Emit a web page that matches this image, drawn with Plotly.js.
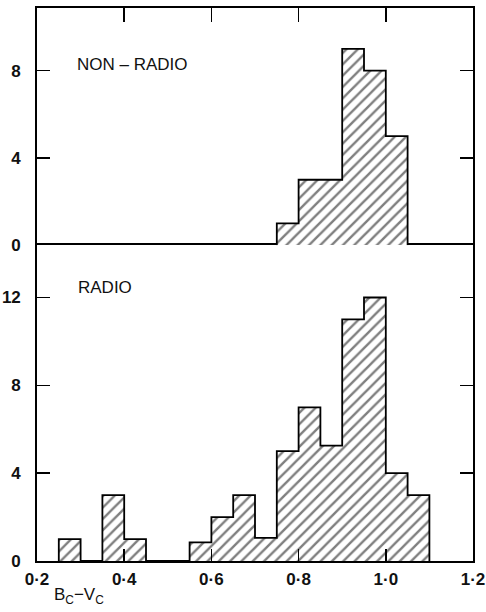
<!DOCTYPE html>
<html>
<head>
<meta charset="utf-8">
<script src="https://cdn.plot.ly/plotly-3.0.1.min.js"></script>
<style>html,body{margin:0;padding:0;background:#fff}#chart{width:486px;height:612px}</style>
</head>
<body>
<div id="chart"></div>
<script>
// Bin centres (B_C - V_C), bin width 0.05
const binWidth = 0.05;
const nonRadioBins = [0.775, 0.825, 0.875, 0.925, 0.975, 1.025];
const nonRadioCounts = [1, 3, 3, 9, 8, 5];
const radioBins = [0.275, 0.325, 0.375, 0.425, 0.475, 0.525, 0.575, 0.625, 0.675, 0.725, 0.775, 0.825, 0.875, 0.925, 0.975, 1.025, 1.075];
const radioCounts = [1, 0, 3, 1, 0, 0, 0.85, 2, 3, 1.05, 5, 7, 5.25, 11, 12, 4, 3];
const xTickVals = [0.2, 0.4, 0.6, 0.8, 1.0, 1.2];
const xTickText = ['0·2', '0·4', '0·6', '0·8', '1·0', '1·2'];
const topTicks = [0, 4, 8];
const bottomTicks = [0, 4, 8, 12];

// step outline of a histogram, built from its bins
function outline(centres, counts) {
  const xs = [centres[0] - binWidth / 2], ys = [0];
  centres.forEach((c, i) => { xs.push(c - binWidth / 2); ys.push(counts[i]); });
  xs.push(centres[centres.length - 1] + binWidth / 2); ys.push(counts[counts.length - 1]);
  xs.push(centres[centres.length - 1] + binWidth / 2); ys.push(0);
  return {xs, ys};
}

const hatch = {
  color: 'white',
  line: {width: 0},
  pattern: {shape: '/', fgcolor: 'black', bgcolor: 'white', size: 8, solidity: 0.3, fillmode: 'overlay'}
};

const oTop = outline(nonRadioBins, nonRadioCounts);
const oBot = outline(radioBins, radioCounts);

const traces = [
  {type: 'bar', x: nonRadioBins, y: nonRadioCounts, width: binWidth, xaxis: 'x2', yaxis: 'y2', marker: hatch},
  {type: 'bar', x: radioBins, y: radioCounts, width: binWidth, xaxis: 'x', yaxis: 'y', marker: hatch},
  {type: 'scatter', mode: 'lines', x: oTop.xs, y: oTop.ys, xaxis: 'x2', yaxis: 'y2', line: {shape: 'hv', color: 'black', width: 1.8}},
  {type: 'scatter', mode: 'lines', x: oBot.xs, y: oBot.ys, xaxis: 'x', yaxis: 'y', line: {shape: 'hv', color: 'black', width: 1.8}}
];

const tickFont = {family: 'Liberation Sans, Arial, sans-serif', size: 17, color: '#111', weight: 'bold'};
const axisCommon = {showgrid: false, zeroline: false, showline: true, linecolor: 'black', linewidth: 1.8,
  ticks: 'inside', tickcolor: 'black', tickwidth: 1.5, tickfont: tickFont, layer: 'above traces'};

const split = 0.571;
const layout = {
  width: 486, height: 612,
  margin: {l: 37, r: 13, t: 8, b: 51},
  paper_bgcolor: 'white', plot_bgcolor: 'white',
  showlegend: false, bargap: 0,
  xaxis: Object.assign({}, axisCommon, {range: [0.2, 1.2], anchor: 'y', side: 'bottom', mirror: true, ticklen: 12,
    tickvals: xTickVals, ticktext: xTickText, ticklabelstandoff: 2}),
  xaxis2: Object.assign({}, axisCommon, {range: [0.2, 1.2], anchor: 'y2', side: 'top', mirror: false, ticklen: 14,
    tickvals: xTickVals, showticklabels: false, matches: 'x'}),
  yaxis: Object.assign({}, axisCommon, {domain: [0, split], range: [0, 14.38], anchor: 'x', mirror: 'ticks', ticklen: 13,
    tickvals: bottomTicks, ticklabelstandoff: 11}),
  yaxis2: Object.assign({}, axisCommon, {domain: [split, 1], range: [0, 10.87], anchor: 'x2', mirror: 'ticks', ticklen: 13,
    tickvals: topTicks, ticklabelstandoff: 11}),
  annotations: [
    {text: 'NON – RADIO', xref: 'paper', yref: 'paper', x: 0.088, y: 0.898, xanchor: 'left', yanchor: 'middle', showarrow: false,
      font: {family: 'Liberation Sans, Arial, sans-serif', size: 17, color: '#111'}},
    {text: 'RADIO', xref: 'paper', yref: 'paper', x: 0.09, y: 0.494, xanchor: 'left', yanchor: 'middle', showarrow: false,
      font: {family: 'Liberation Sans, Arial, sans-serif', size: 17, color: '#111'}},
    {text: 'B<sub>C</sub>−V<sub>C</sub>', xref: 'paper', yref: 'paper', x: 0.096, y: -0.064, xanchor: 'center', yanchor: 'middle', showarrow: false,
      font: {family: 'Liberation Sans, Arial, sans-serif', size: 17, color: '#111'}}
  ]
};

Plotly.newPlot('chart', traces, layout, {staticPlot: true, displayModeBar: false});
</script>
</body>
</html>
